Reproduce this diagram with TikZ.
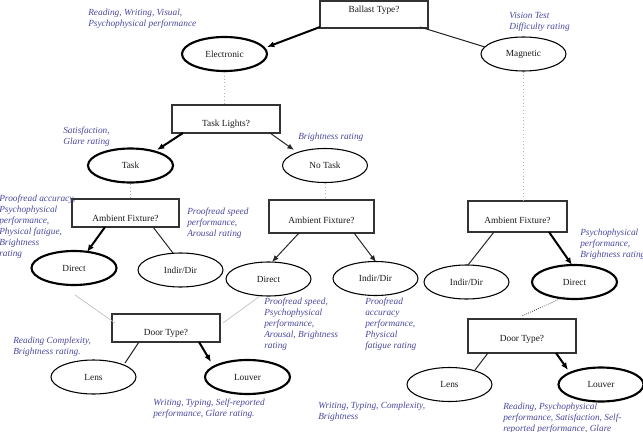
\documentclass[tikz,border=0pt]{standalone}
\usepackage{fontspec}
\setmainfont{Liberation Serif}
\usetikzlibrary{shapes.geometric,arrows.meta}
\definecolor{noteblue}{RGB}{72,72,160}
\begin{document}
\begin{tikzpicture}[x=0.75pt,y=-0.75pt,
  every node/.style={font=\fontsize{7}{8.25}\selectfont},
  qbox/.style={draw=black!80, line width=0.9pt, rectangle, inner sep=0pt, fill=white},
  qtext/.style={inner sep=0pt, anchor=center, text=black!90},
  oval/.style={draw=black, ellipse, minimum width=63.75pt, minimum height=25.5pt, inner sep=0pt, line width=0.8pt, text=black!90},
  boldoval/.style={oval, line width=1.6pt},
  note/.style={text=noteblue, font=\fontsize{7}{8.25}\selectfont\itshape, align=left, anchor=north west, inner sep=0pt},
  boldarrow/.style={line width=1.5pt, black, -{Latex[length=5.5pt,width=4.5pt]}},
  thinarrow/.style={line width=0.75pt, black!85, -{Latex[length=5pt,width=4pt]}},
  thinline/.style={line width=0.75pt, black!85},
  dotline/.style={line width=0.6pt, black!30, dotted},
  greyline/.style={line width=0.5pt, black!25},
  darkdot/.style={line width=0.6pt, black!70, densely dotted}
]
\useasboundingbox (0,0) rectangle (643,432);

% question boxes
\node[qbox, minimum width=81pt, minimum height=20.25pt] (bt) at (374,14.5) {};
\node[qtext] (btt) at (374,10) {Ballast Type?};
\node[qbox, minimum width=81pt, minimum height=21pt] (tl) at (226,119) {};
\node[qtext] (tlt) at (226,124) {Task Lights?};
\node[qbox, minimum width=80.25pt, minimum height=21pt] (la) at (125.5,213) {};
\node[qtext] (lat) at (125.5,218) {Ambient Fixture?};
\node[qbox, minimum width=78.75pt, minimum height=24.75pt] (ma) at (321.5,216.5) {};
\node[qtext] (mat) at (321.5,220) {Ambient Fixture?};
\node[qbox, minimum width=74.25pt, minimum height=23.25pt] (ra) at (517.5,216.5) {};
\node[qtext] (rat) at (517.5,220) {Ambient Fixture?};
\node[qbox, minimum width=81pt, minimum height=21pt] (dl) at (166,328) {};
\node[qtext] (dlt) at (166,333) {Door Type?};
\node[qbox, minimum width=81pt, minimum height=25.5pt] (dr) at (522,336) {};
\node[qtext] (drt) at (522,339) {Door Type?};

% ovals
\node[boldoval] (el) at (224.5,54) {Electronic};
\node[oval] (mag) at (523.5,54) {Magnetic};
\node[boldoval] (task) at (130.5,165.5) {Task};
\node[oval] (na) at (325,165.5) {No Task};
\node[boldoval] (ld) at (74,268) {Direct};
\node[oval] (li) at (180.5,270) {Indir/Dir};
\node[oval] (md) at (268.5,279) {Direct};
\node[oval] (mi) at (375.5,278.5) {Indir/Dir};
\node[oval] (ri) at (466.5,282) {Indir/Dir};
\node[boldoval] (rd) at (574.5,282) {Direct};
\node[oval] (ll) at (93.5,377) {Lens};
\node[boldoval] (lv) at (247.5,377) {Louver};
\node[oval] (rl) at (449.5,384.5) {Lens};
\node[boldoval] (rv) at (601,384.5) {Louver};

% connectors
\draw[boldarrow] ([shift={(-54,12.5)}]bt.center) -- ([shift={(42.5,-7)}]el.center);
\draw[thinline] ([shift={(46,12.5)}]bt.center) -- ([shift={(-38.5,-7)}]mag.center);
\draw[dotline] (el.south) -- (el.south |- tl.north);
\draw[boldarrow] ([shift={(-43,14)}]tl.center) -- ([shift={(26.5,-15.5)}]task.center);
\draw[thinarrow] ([shift={(44,14)}]tl.center) -- ([shift={(-31,-15.5)}]na.center);
\draw[dotline] (task.south) -- (task.south |- la.north);
\draw[dotline] (na.south) -- (na.south |- ma.north);
\draw[dotline] (mag.south) -- (mag.south |- ra.north);
\draw[boldarrow] ([shift={(-20.5,14)}]la.center) -- ([shift={(13,-16)}]ld.center);
\draw[thinline] ([shift={(27.5,14)}]la.center) -- ([shift={(-7.5,-17)}]li.center);
\draw[thinarrow] ([shift={(-22.5,16.5)}]ma.center) -- ([shift={(3.5,-17)}]md.center);
\draw[thinarrow] ([shift={(32.5,16.5)}]ma.center) -- ([shift={(0.5,-16.5)}]mi.center);
\draw[thinline] ([shift={(-23.5,15.5)}]ra.center) -- ([shift={(1.5,-17)}]ri.center);
\draw[boldarrow] ([shift={(31.5,15.5)}]ra.center) -- ([shift={(-2.5,-17)}]rd.center);
\draw[greyline] ([shift={(1,27)}]ld.center) -- ([shift={(-51,-5)}]dl.center);
\draw[greyline] ([shift={(-8.5,17)}]md.center) -- ([shift={(57,-5)}]dl.center);
\draw[thinline] ([shift={(-27,14)}]dl.center) -- ([shift={(31.5,-14)}]ll.center);
\draw[boldarrow] ([shift={(33,14)}]dl.center) -- ([shift={(-36.5,-15)}]lv.center);
\draw[darkdot] ([shift={(-10.5,15)}]rd.center) -- ([shift={(0,-20)}]dr.center);
\draw[thinline] ([shift={(-34,17)}]dr.center) -- ([shift={(25.5,-14.5)}]rl.center);
\draw[boldarrow] ([shift={(34,17)}]dr.center) -- ([shift={(-33,-14.5)}]rv.center);

% notes
\node[note] (n1) at (88,9) {Reading, Writing, Visual,\\Psychophysical performance};
\node[note] (n2) at (509,12) {Vision Test\\Difficulty rating};
\node[note] (n3) at (63,127) {Satisfaction,\\Glare rating};
\node[note] (n4) at (298,133) {Brightness rating};
\node[note] (n5) at (-1,195) {Proofread accuracy,\\Psychophysical\\performance,\\Physical fatigue,\\Brightness\\rating};
\node[note] (n6) at (187,208) {Proofread speed\\performance,\\Arousal rating};
\node[note] (n7) at (264,298) {Proofread speed,\\Psychophysical\\performance,\\Arousal, Brightness\\rating};
\node[note] (n8) at (365,298) {Proofread\\accuracy\\performance,\\Physical\\fatigue rating};
\node[note] (n9) at (580,229) {Psychophysical\\performance,\\Brightness rating};
\node[note] (n10) at (13,337) {Reading Complexity,\\Brightness rating.};
\node[note] (n11) at (153,399) {Writing, Typing, Self-reported\\performance, Glare rating.};
\node[note] (n12) at (318,402) {Writing, Typing, Complexity,\\Brightness};
\node[note] (n13) at (503,403) {Reading, Psychophysical\\performance, Satisfaction, Self-\\reported performance, Glare};
\end{tikzpicture}
\end{document}
